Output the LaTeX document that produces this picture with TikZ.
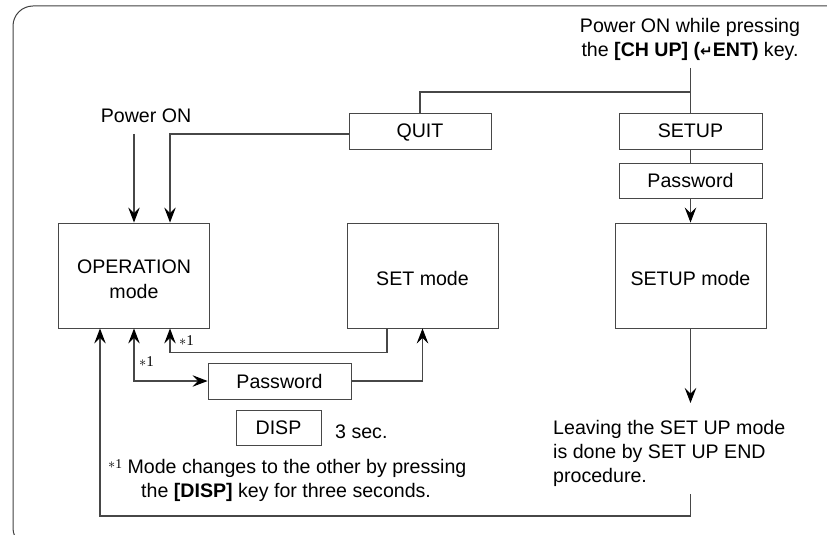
\documentclass[tikz,border=0pt]{standalone}
\usepackage{fontspec}
\setmainfont{Liberation Sans}
\newfontfamily\symfont{DejaVu Sans}
\newfontfamily\notefont{Liberation Serif}
\usetikzlibrary{arrows.meta}
\newcommand\sone{{\notefont\fontsize{15bp}{15bp}\selectfont$\ast$1}}
\newcommand\sonesmall{{\notefont\fontsize{13.5bp}{13.5bp}\selectfont$\ast$1}}
\begin{document}
\begin{tikzpicture}[x=1bp,y=-1bp,
  font=\fontsize{19.6bp}{24bp}\selectfont,
  linecol/.style={draw=black!72, line width=1.1bp},
  modebox/.style={linecol, line width=0.9bp, minimum width=151bp, minimum height=105bp, inner sep=0pt},
  keybox/.style={linecol, line width=0.9bp, minimum width=143bp, minimum height=36bp, inner sep=0pt, text height=14bp, text depth=0pt},
  conn/.style={linecol},
  tip/.tip={Stealth[length=15bp,width=11.5bp,inset=5.5bp,black]},
  arr/.style={conn, -tip},
  both/.style={conn, tip-tip},
  txt/.style={inner sep=0pt}
]
\useasboundingbox (0,0) rectangle (827,535);
\begin{scope}
\clip (0,0) rectangle (827,535);
\draw[draw=black!75, line width=1bp, rounded corners=20bp] (840,6) -- (13,6) -- (13,548) -- (45,548);
\end{scope}

% boxes
\node[modebox] (op) at (134,275.5) {};
\node[modebox] (set) at (422.5,275.5) {};
\node[modebox] (setupm) at (690.5,275.5) {};
\node[txt, anchor=base] (opt1) at (134,273.5) {OPERATION};
\node[txt, anchor=base] (opt2) at (134,298.5) {mode};
\node[txt, anchor=base] (sett) at (422.5,286) {SET mode};
\node[txt, anchor=base] (setupt) at (690.5,286) {SETUP mode};
\node[keybox, minimum width=142bp] (quit) at (420,131) {QUIT};
\node[keybox] (setup) at (690.5,131) {SETUP};
\node[keybox, minimum height=35bp] (pwr) at (690.5,181) {Password};
\node[keybox] (pwm) at (279.5,381) {Password};
\node[keybox, minimum width=85bp, minimum height=35bp] (disp) at (278.5,427.5) {DISP};

% texts
\node[txt, anchor=base west] (three) at (335,438) {3 sec.};
\node[txt, anchor=base] (pon) at (146,123) {Power ON};
\node[txt, anchor=north, align=center] (pons) at (690,18.5)
  {Power ON while pressing\\the \textbf{[CH UP] ({\symfont\fontsize{15bp}{15bp}\selectfont ↵}ENT)} key.};
\node[txt, anchor=north west, align=left] (leave) at (553,420)
  {Leaving the SET UP mode\\is done by SET UP END\\procedure.};
\node[txt, anchor=north west, align=left] (note) at (108,459)
  {\raisebox{5bp}{\sonesmall} Mode changes to the other by pressing\\\hspace*{33bp}the \textbf{[DISP]} key for three seconds.};
\node[txt, anchor=west] (s1a) at (179,341) {\sone};
\node[txt, anchor=west] (s1b) at (139,362) {\sone};

% connectors
\coordinate (ctop) at (690.5,68);
\coordinate (cj) at (690.5,92);
\draw[conn] (ctop) -- (setup.north);
\draw[conn] (cj) -| (quit.north);
\draw[conn] (setup) -- (pwr);
\draw[arr] (pwr) -- (setupm);
\coordinate (leavetip) at (690.5,403);
\draw[arr] (setupm.south) -- (leavetip);
\coordinate (bl) at (690.5,494);
\coordinate (loopc) at (100,516);
\draw[arr] (bl) |- (loopc) -- (loopc |- op.south);
\coordinate (ponstart) at (134,134);
\draw[arr] (ponstart) -- (ponstart |- op.north);
\draw[arr] ([yshift=-3bp]quit.west) -| ([xshift=36bp]op.north);
\coordinate (m1) at (170,352.5);
\draw[arr] ([xshift=-35.5bp]set.south) |- (m1) -- (m1 |- op.south);
\coordinate (m2) at (134,381.5);
\draw[both] (m2 |- op.south) |- (pwm.west);
\draw[arr] (pwm.east) -| (set.south);
\end{tikzpicture}
\end{document}
